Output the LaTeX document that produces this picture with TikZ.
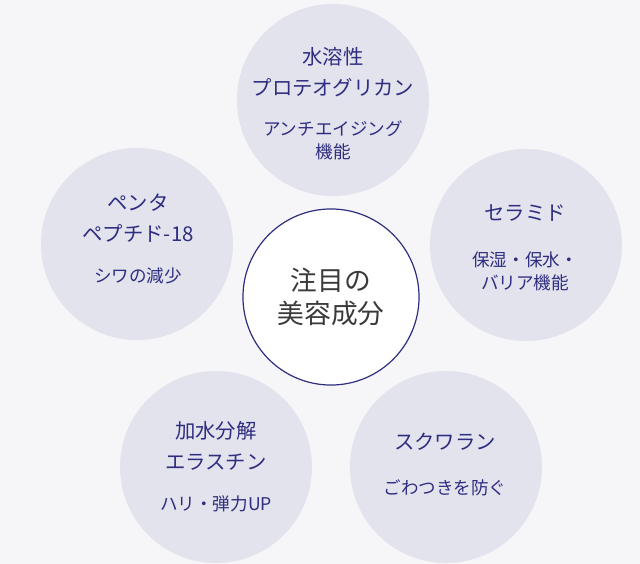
\documentclass[tikz,border=0pt]{standalone}
\usepackage{fontspec}
\setmainfont{Noto Sans CJK JP}
\usetikzlibrary{positioning}
\definecolor{bgGray}{HTML}{F6F6F8}
\definecolor{ringFill}{HTML}{E3E3EE}
\definecolor{mNavy}{HTML}{2E2D7F}
\definecolor{hubText}{HTML}{3A3A3A}

\begin{document}
\begin{tikzpicture}[x=0.025cm, y=-0.025cm,
      ring/.style={circle, fill=ringFill, minimum size=4.8cm, inner sep=0pt},
      hub/.style={circle, draw=mNavy, line width=0.85pt, fill=white, minimum size=4.4cm,
        inner sep=0pt, text=hubText, align=center, font=\fontsize{19}{24}\selectfont},
      ttl/.style={text=mNavy, align=center, font=\fontsize{14.5}{22}\selectfont},
      subtxt/.style={text=mNavy, align=center, font=\fontsize{12.5}{16.3}\selectfont}]
    % background
    \fill[bgGray] (0,0) rectangle (640,564);
    % outer rings
    \foreach \nm/\x/\y in {top/333/100, right/526/245, left/137/244, lowleft/216/467, lowright/446/467}
      \node[ring] (\nm) at (\x,\y) {};
    % centre
    \node[hub] (hub) at (331,297) {注目の\\美容成分};
    % top
    \node[ttl] (top-ttl) at (333,72) {水溶性\\プロテオグリカン};
    \node[subtxt] (top-sub) at (333,140) {アンチエイジング\\機能};
    % right
    \node[ttl] (right-ttl) at (525,213) {セラミド};
    \node[subtxt] (right-sub) at (525,271) {保湿・保水・\\バリア機能};
    % left
    \node[ttl] (left-ttl) at (138,218) {ペンタ\\ペプチド-18};
    \node[subtxt] (left-sub) at (138,276) {シワの減少};
    % lower left
    \node[ttl] (lowleft-ttl) at (216,446) {加水分解\\エラスチン};
    \node[subtxt] (lowleft-sub) at (216,504) {ハリ・弾力UP};
    % lower right
    \node[ttl] (lowright-ttl) at (445,442) {スクワラン};
    \node[subtxt] (lowright-sub) at (445,488) {ごわつきを防ぐ};
  \end{tikzpicture}
\end{document}
